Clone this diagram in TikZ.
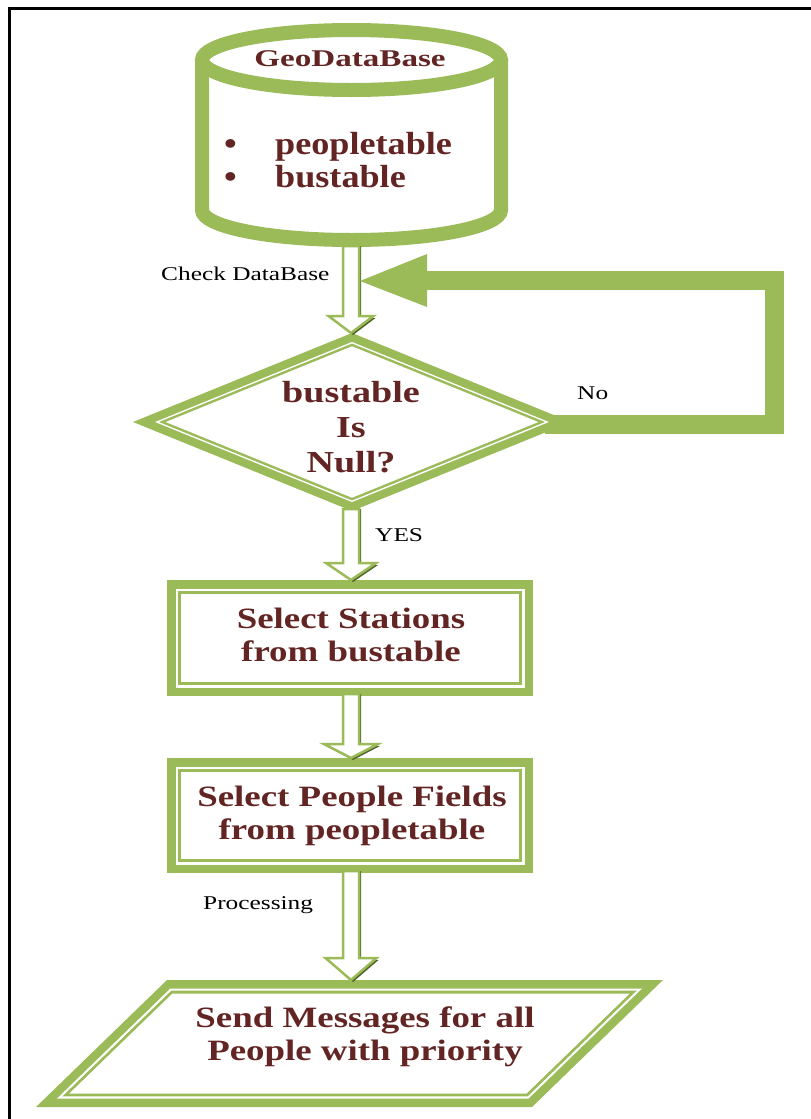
\documentclass[tikz,border=0pt]{standalone}
\usepackage{fontspec}
\setmainfont{Liberation Serif}
\newfontfamily\fntShape[FakeStretch=1.25]{Liberation Serif}
\newfontfamily\fntGeo[FakeStretch=1.38]{Liberation Serif}
\newfontfamily\fntList[FakeStretch=1.13]{Liberation Serif}
\newfontfamily\fntLab[FakeStretch=1.3]{Liberation Serif}
\usetikzlibrary{calc}
\definecolor{accgreen}{RGB}{155,187,89}
\definecolor{shadowgreen}{RGB}{79,98,40}
\definecolor{txtred}{RGB}{99,37,35}

% block arrow: from, to, head length, shaft half width, head half width
\newcommand\blockarrow[5]{%
  \fill[shadowgreen] ($(#1)+(-#4+2,0)$) -- ($(#1|-#2)+(-#4+2,-#3+2)$) -- ($(#1|-#2)+(-#5+2,-#3+2)$) -- ($(#1|-#2)+(2,2)$) -- ($(#1|-#2)+(#5+2,-#3+2)$) -- ($(#1|-#2)+(#4+2,-#3+2)$) -- ($(#1)+(#4+2,0)$) -- cycle;
  \filldraw[arrowbody] ($(#1)+(-#4,0)$) -- ($(#1|-#2)+(-#4,-#3)$) -- ($(#1|-#2)+(-#5,-#3)$) -- (#1|-#2) -- ($(#1|-#2)+(#5,-#3)$) -- ($(#1|-#2)+(#4,-#3)$) -- ($(#1)+(#4,0)$) -- cycle;}
% thick-thin framed rectangle between two corners
\newcommand\nestrect[2]{%
  \foreach \d/\c in {0/accgreen,8.5/white,10.7/accgreen,13.7/white}
    \fill[\c] ($(#1)+(\d,\d)$) rectangle ($(#2)-(\d,\d)$);}
% thick-thin framed diamond around a centre
\newcommand\nestdiamond[1]{%
  \foreach \d/\c in {0/accgreen,8.3/white,9.8/accgreen,12.3/white}
    \fill[\c] ($(#1)+({-219+2.656*\d},0)$) -- ($(#1)+(0,{-89+1.0795*\d})$) -- ($(#1)+({219-2.656*\d},0)$) -- ($(#1)+(0,{89-1.0795*\d})$) -- cycle;}
% thick-thin framed parallelogram: TL, TR, BR, BL
\newcommand\nestpara[4]{%
  \foreach \d/\c in {0/accgreen,8.5/white,10.7/accgreen,13.5/white}
    \fill[\c] ($(#1)+({0.406*\d},\d)$) -- ($(#2)+({-2.468*\d},\d)$) -- ($(#3)+({-0.406*\d},-\d)$) -- ($(#4)+({2.468*\d},-\d)$) -- cycle;}

\begin{document}
\begin{tikzpicture}[x=1pt,y=-1pt,
  arrowbody/.style={fill=white, draw=accgreen, line width=2.5},
  shapetxt/.style={text=txtred, font=\fntShape\bfseries\fontsize{29.5}{33}\selectfont, align=center, inner sep=0, anchor=base},
  dectxt/.style={shapetxt, font=\fntShape\bfseries\fontsize{30.5}{35}\selectfont},
  geotxt/.style={text=txtred, font=\fntGeo\bfseries\fontsize{24}{28}\selectfont, inner sep=0, anchor=base},
  listtxt/.style={text=txtred, font=\fntList\bfseries\fontsize{32}{33}\selectfont, inner sep=0, anchor=base west},
  labtxt/.style={text=black, font=\fntLab\fontsize{19.5}{22}\selectfont, inner sep=0, anchor=base west},
  loopbar/.style={accgreen, line width=19, line join=miter},
  frameline/.style={black, line width=3, line join=miter}]
\useasboundingbox (0,0) rectangle (811,1119);

% page frame (top and left)
\draw[frameline] (9.5,1119) -- (9.5,8.5) -- (811,8.5);

% geometry coordinates
\coordinate (dbS) at (351,246);
\coordinate (decC) at (352,422);
\coordinate (decN) at (351,333);
\coordinate (decS) at (351,509);
\coordinate (decE) at (545,424);
\coordinate (c1) at (774,424);
\coordinate (c2) at (774,280);
\coordinate (hb) at (427,280);
\coordinate (chk) at (360,281);
\coordinate (r1NW) at (167,580);
\coordinate (r1SE) at (533,696);
\coordinate (r1N) at (351,580);
\coordinate (r1S) at (351,694);
\coordinate (r2NW) at (167,758);
\coordinate (r2SE) at (533,873);
\coordinate (r2N) at (351,758);
\coordinate (r2S) at (351,871);
\coordinate (pTL) at (167,980);
\coordinate (pTR) at (663,980);
\coordinate (pBR) at (532,1107);
\coordinate (pBL) at (36,1107);
\coordinate (pN) at (351,980);

% database cylinder
\filldraw[fill=white, draw=accgreen, line width=14]
  (202,60) -- (202,210) .. controls (202,226.57) and (268.93,240) .. (351.5,240)
  .. controls (434.07,240) and (501,226.57) .. (501,210) -- (501,60);
\filldraw[fill=white, draw=accgreen, line width=14] (351.5,60) ellipse [x radius=149.5, y radius=30];

% "No" loop back to the database check
\draw[loopbar] (decE) -- (c1) -- (c2) -- (hb);

% decision diamond
\nestdiamond{decC}

% arrow: database -> decision
\blockarrow{dbS}{decN}{17}{8}{22.5}
\fill[accgreen] (chk) -- ($(hb)+(0,-26)$) -- ($(hb)+(0,27)$) -- cycle;

% process boxes
\nestrect{r1NW}{r1SE}
\nestrect{r2NW}{r2SE}
\nestpara{pTL}{pTR}{pBR}{pBL}

% remaining arrows
\blockarrow{decS}{r1N}{17}{8}{25}
\blockarrow{r1S}{r2N}{14}{8}{27}
\blockarrow{r2S}{pN}{22}{8}{25.5}

% texts (base anchor = baseline of the last line)
\node[geotxt] (geo) at (350,66) {GeoDataBase};
\node[listtxt] (b1) at (224,154) {•};
\node[listtxt] (i1) at (275,154) {peopletable};
\node[listtxt] (b2) at (224,187) {•};
\node[listtxt] (i2) at (275,187) {bustable};
\node[dectxt] (dec) at (351,472) {bustable\\Is\\Null?};
\node[shapetxt] (r1) at (351,661) {Select Stations\\from bustable};
\node[shapetxt] (r2) at (352,839) {Select People Fields\\from peopletable};
\node[shapetxt] (par) at (365,1060) {Send Messages for all\\People with priority};

\node[labtxt] (lchk) at (161,280) {Check DataBase};
\node[labtxt] (lno) at (577,399) {No};
\node[labtxt] (lyes) at (375,541) {YES};
\node[labtxt] (lproc) at (203,909) {Processing};
\end{tikzpicture}
\end{document}
